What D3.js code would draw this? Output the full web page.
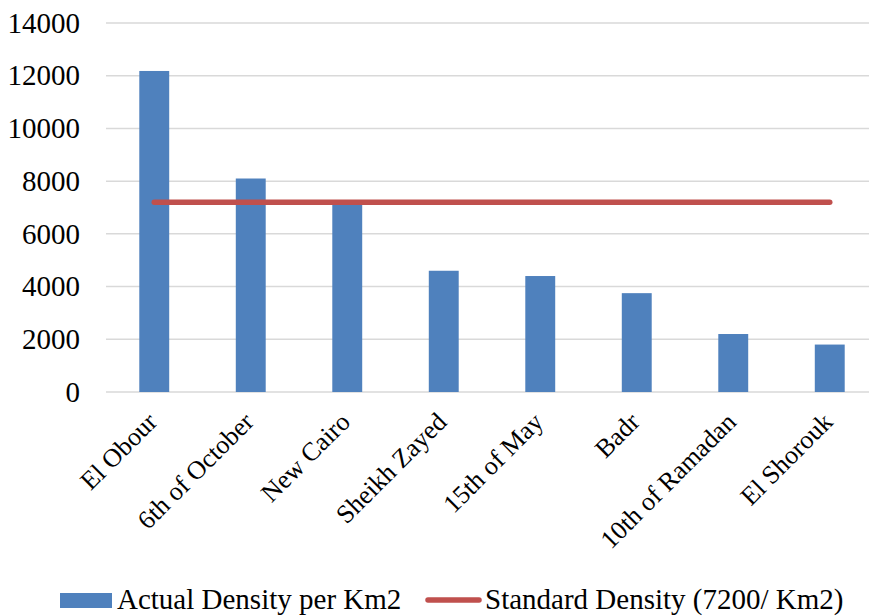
<!DOCTYPE html>
<html>
<head>
<meta charset="utf-8">
<script src="https://cdn.jsdelivr.net/npm/d3@7"></script>
<style>
  html, body { margin: 0; padding: 0; background: #fff; }
  svg { display: block; }
</style>
</head>
<body>
<svg id="chart" width="869" height="616"></svg>
<script>
// Population density of new Egyptian cities
const cities = ["El Obour", "6th of October", "New Cairo", "Sheikh Zayed",
                "15th of May", "Badr", "10th of Ramadan", "El Shorouk"];
const actualDensity = [12180, 8100, 7200, 4600, 4400, 3750, 2200, 1800];
const standardDensity = [7200, 7200, 7200, 7200, 7200, 7200, 7200, 7200];
const yTicks = [0, 2000, 4000, 6000, 8000, 10000, 12000, 14000];
const seriesNames = ["Actual Density per Km2", "Standard Density (7200/ Km2)"];

const SERIF = '"Liberation Serif", "Times New Roman", serif';
const svg = d3.select("#chart");
const W = 869;

const x = d3.scaleBand().domain(cities).range([106, 878]).paddingInner(0.69).paddingOuter(0.345);
const y = d3.scaleLinear().domain([0, 14000]).range([392, 23]);

// gridlines
svg.append("g")
  .selectAll("line")
  .data(yTicks)
  .join("line")
  .attr("x1", 106).attr("x2", W)
  .attr("y1", d => y(d)).attr("y2", d => y(d))
  .attr("stroke", "#d9d9d9").attr("stroke-width", 1.5);

// y axis labels
const yAxis = d3.axisLeft(y).tickValues(yTicks).tickSize(0).tickPadding(0).tickFormat(d3.format("d"));
const gy = svg.append("g").attr("transform", "translate(80,0)").call(yAxis);
gy.select(".domain").remove();
gy.selectAll("text")
  .style("font-family", SERIF)
  .style("font-size", "29px")
  .style("fill", "#000");

// bars
svg.append("g")
  .selectAll("rect")
  .data(cities)
  .join("rect")
  .attr("x", d => x(d))
  .attr("width", x.bandwidth())
  .attr("y", (d, i) => y(actualDensity[i]))
  .attr("height", (d, i) => y(0) - y(actualDensity[i]))
  .attr("fill", "#4f81bd");

// standard density line
const line = d3.line()
  .x((d, i) => x(cities[i]) + x.bandwidth() / 2)
  .y(d => y(d));
svg.append("path")
  .datum(standardDensity)
  .attr("d", line)
  .attr("fill", "none")
  .attr("stroke", "#c0504d")
  .attr("stroke-width", 5.5)
  .attr("stroke-linecap", "round");

// category labels
svg.append("g")
  .selectAll("text")
  .data(cities)
  .join("text")
  .attr("transform", d => `translate(${x(d) + x.bandwidth() / 2 - 2},${417}) rotate(-45)`)
  .attr("text-anchor", "end")
  .attr("dy", "0.35em")
  .style("font-family", SERIF)
  .style("font-size", "26px")
  .style("fill", "#000")
  .text(d => d);

// legend
const lg = svg.append("g");
lg.append("rect").attr("x", 60).attr("y", 593).attr("width", 52).attr("height", 15).attr("fill", "#4f81bd");
lg.append("text").attr("x", 117).attr("y", 609)
  .style("font-family", SERIF).style("font-size", "29px").style("fill", "#000")
  .text(seriesNames[0]);
lg.append("line").attr("x1", 428).attr("x2", 479).attr("y1", 600).attr("y2", 600)
  .attr("stroke", "#c0504d").attr("stroke-width", 5.5).attr("stroke-linecap", "round");
lg.append("text").attr("x", 485).attr("y", 609)
  .style("font-family", SERIF).style("font-size", "29px").style("fill", "#000")
  .text(seriesNames[1]);
</script>
</body>
</html>
